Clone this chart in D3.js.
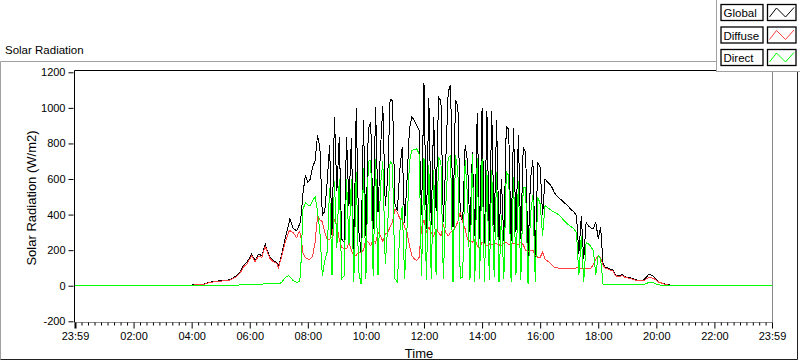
<!DOCTYPE html>
<html><head><meta charset="utf-8">
<script src="https://cdn.jsdelivr.net/npm/d3@7/dist/d3.min.js"></script>
<style>
body{margin:0;background:#fff;}
svg text{font-family:"Liberation Sans",Arial,sans-serif;fill:#000;}
</style></head><body>
<svg id="c" width="800" height="361"></svg>
<script>
// time in minutes from 00:00 (-1 = 23:59 of previous day)
const times = [-1,225,235,250,265,278,290,299,310,319,326,333,340,347,354,364,371,378,385,392,395,402,409,416,419,426,433,440,443,450,457,462,
465,470,475,480,485,490,495,500,505,510,515,520,525,530,535,540,545,550,555,560,565,570,575,580,585,590,595,
600,605,610,615,620,625,630,635,640,645,650,655,660,665,670,675,680,685,690,695,700,705,710,715,
720,725,730,735,740,745,750,755,760,765,770,775,780,785,790,795,800,805,810,815,820,825,830,835,
840,845,850,855,860,865,870,875,880,885,890,895,900,905,910,915,920,925,930,935,940,945,950,955,
960,965,970,975,980,985,990,995,1000,1005,1010,1015,1020,1025,1030,1035,1040,1045,1050,1055,1060,1065,1070,1075,
1080,1085,1090,1095,1100,1105,1110,1115,1120,1125,1130,1135,1140,1145,1150,1155,1160,1165,1170,1175,1180,1185,1190,1195,
1200,1205,1210,1215,1220,1225,1230,1235,1240,1439];

const globalVals = [0,0,3,6,9,20,25,28,30,34,45,56,75,113,131,178,141,178,169,235,207,160,141,131,103,178,263,338,376,320,310,340,
360,520,620,580,600,670,700,846,773,395,420,583,790,282,949,530,837,263,244,837,451,830,160,1000,320,188,931,
282,880,920,320,1006,413,760,1012,450,600,1050,1040,460,420,650,780,350,600,880,950,930,900,874,400,
1137,320,1053,340,950,420,1060,1040,360,700,1090,1130,330,1043,1012,395,360,790,700,300,750,280,970,260,
998,240,980,250,980,300,930,260,600,250,893,880,250,885,300,850,260,780,750,169,600,705,160,690,
667,395,600,583,570,550,520,505,491,480,465,455,440,425,415,395,180,390,150,355,335,325,320,357,
263,329,120,102,100,94,90,62,56,58,62,52,47,46,40,36,32,30,30,35,50,66,60,50,
35,22,18,12,8,5,3,1,0,0];

const diffuseVals = [0,0,2,5,8,18,23,26,28,32,42,52,70,105,122,168,135,165,160,222,198,152,135,125,98,165,240,300,310,298,270,305,
290,185,158,150,150,165,244,390,370,360,300,263,260,275,376,340,260,216,210,207,244,200,165,170,190,185,200,
260,244,225,260,240,300,280,250,290,300,330,360,430,410,380,370,330,300,225,170,150,141,160,330,
370,300,330,300,280,320,300,280,340,300,280,300,310,330,360,413,357,320,260,250,244,260,225,210,
245,240,225,235,230,240,235,230,225,240,245,230,240,235,240,230,244,230,200,190,200,200,170,160,
160,188,150,140,130,115,103,100,98,97,96,96,97,98,98,100,100,97,95,96,97,100,118,150,
169,158,113,98,95,88,85,58,52,54,56,48,44,42,37,33,30,28,28,30,40,48,45,40,
30,20,16,10,7,4,2,1,0,0];

const directVals = [0,0,0,0,0,0,0,0,0,0,0,2,5,7,8,9,8,9,9,12,14,15,13,11,10,18,45,56,50,28,20,22,
60,430,465,455,450,480,500,420,300,56,140,190,550,60,590,215,600,40,56,600,230,600,20,640,80,10,660,
40,700,705,56,715,60,560,700,120,330,700,680,40,20,300,450,40,330,700,760,765,770,740,56,
720,30,680,40,650,60,720,700,40,450,720,730,20,733,650,40,50,705,500,30,740,20,720,40,
715,20,650,30,650,50,640,20,400,40,640,620,20,610,60,590,30,550,550,10,400,510,20,500,
460,282,450,440,430,420,413,405,395,380,365,350,340,330,318,300,60,282,19,244,235,220,197,60,
170,150,8,7,7,6,6,6,6,6,6,6,6,6,6,6,6,6,6,8,12,20,20,15,
8,5,3,2,1,0,0,0,0,0];

const xTickMinutes = [-1,120,240,360,480,600,720,840,960,1080,1200,1320,1439];
const xTickLabels = ["23:59","02:00","04:00","06:00","08:00","10:00","12:00","14:00","16:00","18:00","20:00","22:00","23:59"];
const yTicks = [-200,0,200,400,600,800,1000,1200];
const seriesNames = ["Global","Diffuse","Direct"];
const seriesColors = ["#000000","#ff4040","#00ff00"];

const svg = d3.select("#c");
const L = 74.5, T = 70.5, R = 772.5, B = 322.5;
const x = d3.scaleLinear().domain([-1,1439]).range([75,772]);
const y = d3.scaleLinear().domain([-200,1200]).range([321.3,72.3]);

// outer panel
svg.append("line").attr("x1",0.5).attr("y1",61.5).attr("x2",717).attr("y2",61.5).attr("stroke","#a0a0a0");
svg.append("line").attr("x1",0.5).attr("y1",61.5).attr("x2",0.5).attr("y2",359.5).attr("stroke","#a0a0a0");
svg.append("line").attr("x1",0.5).attr("y1",359.5).attr("x2",797.5).attr("y2",359.5).attr("stroke","#202020");
svg.append("line").attr("x1",797.5).attr("y1",72).attr("x2",797.5).attr("y2",359.5).attr("stroke","#202020");

// title
svg.append("text").attr("x",5).attr("y",54).style("font-size","11.5px").text("Solar Radiation");

// plot frame
svg.append("line").attr("x1",L).attr("y1",T).attr("x2",R).attr("y2",T).attr("stroke","#000");
svg.append("line").attr("x1",L).attr("y1",T).attr("x2",L).attr("y2",B).attr("stroke","#000");
svg.append("line").attr("x1",R).attr("y1",T).attr("x2",R).attr("y2",B).attr("stroke","#888");
svg.append("line").attr("x1",L).attr("y1",B).attr("x2",R).attr("y2",B).attr("stroke","#888");

// clip
svg.append("defs").append("clipPath").attr("id","clip").append("rect")
  .attr("x",L+0.5).attr("y",T+0.5).attr("width",R-L-1).attr("height",B-T-1);

// y axis
const yAxis = d3.axisLeft(y).tickValues(yTicks).tickSize(5).tickPadding(3).tickFormat(v=>String(v));
const gy = svg.append("g").attr("transform",`translate(${L-1},0)`).call(yAxis);
gy.select(".domain").remove();
gy.selectAll("text").style("font-size","11px").style("font-family","'Liberation Sans',Arial,sans-serif");
gy.selectAll(".tick line").attr("stroke","#000");

// x axis majors
const xAxis = d3.axisBottom(x).tickValues(xTickMinutes).tickSize(6).tickPadding(4)
  .tickFormat((d,i)=>xTickLabels[i]);
const gx = svg.append("g").attr("transform",`translate(0,${B})`).call(xAxis);
gx.select(".domain").remove();
gx.selectAll("text").style("font-size","11px").style("font-family","'Liberation Sans',Arial,sans-serif");
gx.selectAll(".tick line").attr("stroke","#000");
gx.select(".tick line").attr("stroke-width",2);

// x axis minors
const minors = [];
for (let i=0;i<xTickMinutes.length-1;i++){
  const a=xTickMinutes[i], b=xTickMinutes[i+1];
  for (let k=1;k<=8;k++) minors.push(a+(b-a)*k/9);
}
const gxm = svg.append("g").attr("transform",`translate(0,${B})`)
  .call(d3.axisBottom(x).tickValues(minors).tickSize(3).tickFormat(""));
gxm.select(".domain").remove();
gxm.selectAll(".tick line").attr("stroke","#000");

// axis titles
svg.append("text").attr("x",419).attr("y",358).attr("text-anchor","middle").style("font-size","13px").text("Time");
svg.append("text").attr("transform","translate(36,198) rotate(-90)").attr("text-anchor","middle")
  .style("font-size","13px").text("Solar Radiation (W/m2)");

// lines
const seriesVals = [globalVals, diffuseVals, directVals];
const line = d3.line().x(d=>x(d[0])).y(d=>y(d[1]));
const gp = svg.append("g").attr("clip-path","url(#clip)");
seriesVals.forEach((vals,i)=>{
  const pts = times.map((t,j)=>[t, vals[j]]);
  gp.append("path").attr("d",line(pts)).attr("fill","none")
    .attr("stroke",seriesColors[i]).attr("stroke-width",1)
    .style("shape-rendering","crispEdges");
});

// legend
const lg = svg.append("g");
lg.append("rect").attr("x",717).attr("y",0).attr("width",83).attr("height",71.5).attr("fill","#fff");
lg.append("line").attr("x1",716.5).attr("y1",0).attr("x2",716.5).attr("y2",72).attr("stroke","#a0a0a0");
lg.append("line").attr("x1",716.5).attr("y1",71.5).attr("x2",800).attr("y2",71.5).attr("stroke","#a0a0a0");
const rowY = [4.5, 27, 49.5];
seriesNames.forEach((name,i)=>{
  const ry = rowY[i];
  lg.append("rect").attr("x",721).attr("y",ry).attr("width",42).attr("height",16)
    .attr("fill","#fff").attr("stroke","#000").attr("stroke-width",1.3);
  lg.append("text").attr("x",723.5).attr("y",ry+12.5).style("font-size","11.5px").text(name);
  lg.append("rect").attr("x",767.5).attr("y",ry).attr("width",28.5).attr("height",16)
    .attr("fill","#fff").attr("stroke","#000").attr("stroke-width",1.3);
  const zz = [[769.5,ry+12.5],[776.5,ry+3.5],[785.5,ry+12.5],[794,ry+3]];
  lg.append("path").attr("d",d3.line()(zz)).attr("fill","none").attr("stroke",seriesColors[i]).attr("stroke-width",1);
});
</script>
</body></html>
